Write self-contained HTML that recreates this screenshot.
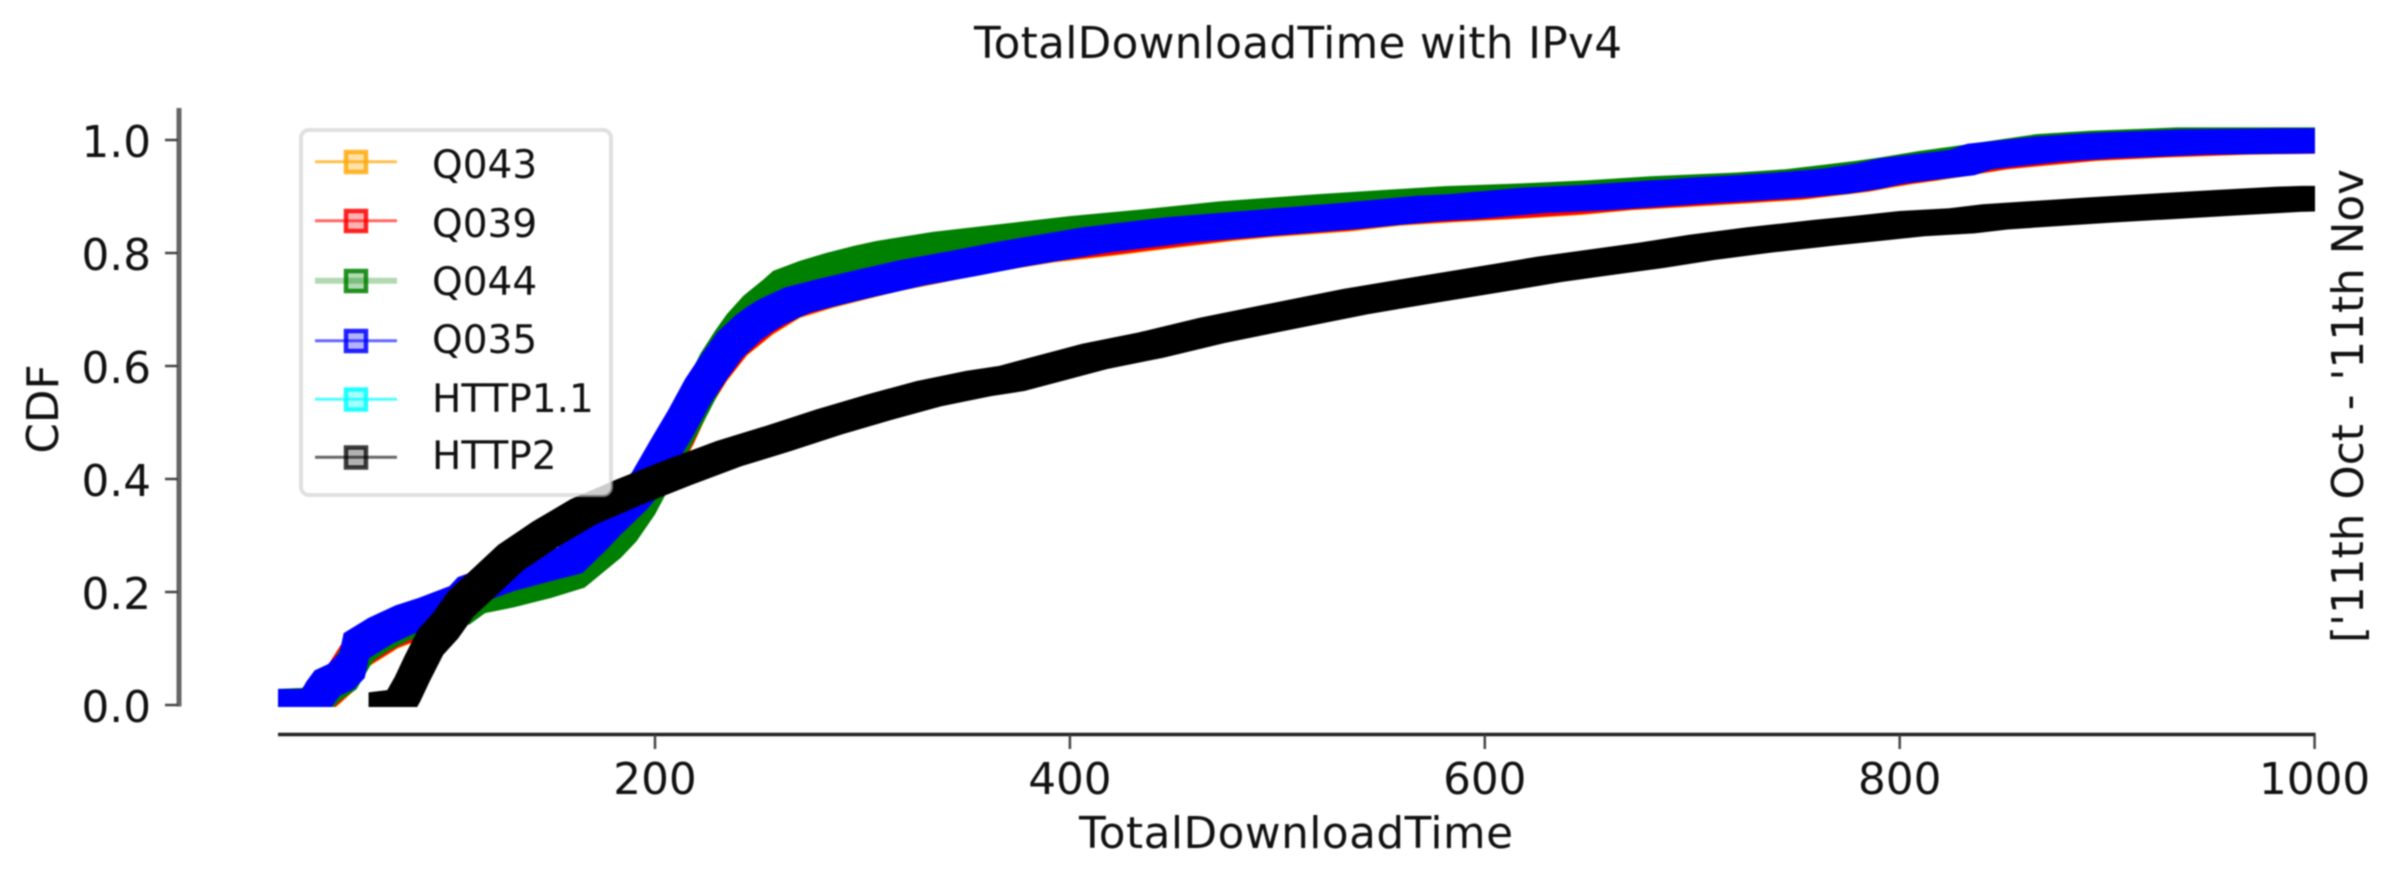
<!DOCTYPE html>
<html>
<head>
<meta charset="utf-8">
<title>TotalDownloadTime with IPv4</title>
<style>
html,body{margin:0;padding:0;background:#fff;width:2400px;height:886px;overflow:hidden}
svg{display:block;filter:blur(0.9px)}
text{font-family:"DejaVu Sans","Liberation Sans",sans-serif;font-size:43.7px;fill:#111}
text.legend-label{font-size:39px}
</style>
</head>
<body>
<svg id="chart" width="2400" height="886" viewBox="0 0 2400 886" xmlns="http://www.w3.org/2000/svg">
  <defs>
    <clipPath id="plot-clip"><rect x="278" y="108" width="2037" height="599"></rect></clipPath>
  </defs>
  <rect x="0" y="0" width="2400" height="886" fill="#fff"></rect>
  <text x="1298" y="58" text-anchor="middle" textLength="648">TotalDownloadTime with IPv4</text>
  <g id="series-layer" clip-path="url(#plot-clip)"></g>
  <g id="axes-layer"></g>
  <text x="1296" y="848" text-anchor="middle" textLength="434">TotalDownloadTime</text>
  <text transform="translate(58,409) rotate(-90)" text-anchor="middle">CDF</text>
  <text transform="translate(2363,643) rotate(-90)">['11th Oct - '11th Nov</text>
  <g>
    <rect x="301" y="130" width="310" height="365" rx="8" fill="#fff" fill-opacity="0.8" stroke="#ccc" stroke-opacity="0.6" stroke-width="4"></rect>
    <g>
      <line x1="315" x2="397" y1="161.7" y2="161.7" stroke="#ffa500" stroke-width="3" stroke-opacity="0.7"></line>
      <rect x="346" y="152" width="20" height="20" fill="#ffa500" fill-opacity="0.35" stroke="#ffa500" stroke-opacity="0.8" stroke-width="4.5"></rect>
      <text class="legend-label" x="432" y="178">Q043</text>
    </g>
    <g>
      <line x1="315" x2="397" y1="220.7" y2="220.7" stroke="#ff0000" stroke-width="3" stroke-opacity="0.6"></line>
      <rect x="346" y="211" width="20" height="20" fill="#ff0000" fill-opacity="0.3" stroke="#ff0000" stroke-opacity="0.85" stroke-width="4.5"></rect>
      <text class="legend-label" x="432" y="237">Q039</text>
    </g>
    <g>
      <line x1="315" x2="397" y1="280.7" y2="280.7" stroke="#008000" stroke-width="6" stroke-opacity="0.3"></line>
      <rect x="346" y="271" width="20" height="20" fill="#008000" fill-opacity="0.3" stroke="#008000" stroke-opacity="0.85" stroke-width="4.5"></rect>
      <text class="legend-label" x="432" y="295">Q044</text>
    </g>
    <g>
      <line x1="315" x2="397" y1="340.7" y2="340.7" stroke="#0000ff" stroke-width="3" stroke-opacity="0.6"></line>
      <rect x="346" y="331" width="20" height="20" fill="#0000ff" fill-opacity="0.3" stroke="#0000ff" stroke-opacity="0.85" stroke-width="4.5"></rect>
      <text class="legend-label" x="432" y="353">Q035</text>
    </g>
    <g>
      <line x1="315" x2="397" y1="399.3" y2="399.3" stroke="#00ffff" stroke-width="3" stroke-opacity="0.7"></line>
      <rect x="346" y="389.5" width="20" height="20" fill="#00ffff" fill-opacity="0.35" stroke="#00ffff" stroke-opacity="0.85" stroke-width="4.5"></rect>
      <text class="legend-label" x="432" y="412">HTTP1.1</text>
    </g>
    <g>
      <line x1="315" x2="397" y1="457.3" y2="457.3" stroke="#000" stroke-width="3" stroke-opacity="0.6"></line>
      <rect x="346" y="447.5" width="20" height="20" fill="#000" fill-opacity="0.3" stroke="#000" stroke-opacity="0.75" stroke-width="4.5"></rect>
      <text class="legend-label" x="432" y="469">HTTP2</text>
    </g>
  </g>
</svg>
<script>
const xTickValues = [200, 400, 600, 800, 1000];
const xTickLabels = ["200", "400", "600", "800", "1000"];
const yTickValues = [0, 0.2, 0.4, 0.6, 0.8, 1.0];
const yTickLabels = ["0.0", "0.2", "0.4", "0.6", "0.8", "1.0"];

const q043X = [10,36,42,48,56,70,90,110,125,140,160,172,182,194,204,212.5,220.6,228.6,238.2,251,263.9,280,296,312,328,344,360,386,415,440.5,472.6,492,529,553,577,615,641,665,692.6,721.5,747,763,779,790.6,800,811.5,819,846,865.5,889,922.6,963,1000];
const q043Y = [.004,.006,.024,.044,.09,.122,.15,.185,.215,.232,.25,.285,.325,.375,.425,.483,.548,.595,.64,.678,.707,.725,.74,.755,.766,.779,.79,.805,.817,.829,.843,.85,.86,.87,.8758,.8835,.8894,.8977,.9036,.91,.916,.923,.93,.938,.9437,.9496,.954,.97,.977,.985,.991,.996,.998];

const q039X = [10,36,42,48,56,70,90,110,125,140,160,172,182,194,204,212.5,220.6,228.6,238.2,251,263.9,280,296,312,328,344,360,386,415,440.5,472.6,492,529,553,577,615,641,665,692.6,721.5,747,763,779,790.6,800,811.5,819,846,865.5,889,922.6,963,1000];
const q039Y = [.005,.007,.026,.046,.092,.124,.152,.186,.216,.233,.251,.286,.326,.376,.427,.485,.55,.597,.642,.68,.709,.727,.742,.757,.768,.781,.792,.807,.819,.831,.845,.852,.862,.872,.8775,.885,.891,.899,.905,.9115,.9175,.9245,.9315,.9395,.945,.951,.9555,.971,.978,.986,.992,.997,.9985];

const q044X = [10,36,42,50,58,65,76,90,104.6,112,125.8,144,160,177.5,185,194,199.5,207,214,220.5,228,235,240.6,248.7,258.4,263,276,288.7,301.7,312.7,340,372,406,441,478,526,587,624,656,688.6,727,751,769,785,796,806,815,830,872,898,940,1000];
const q044Y = [.004,.008,.03,.05,.1,.117,.138,.15,.165,.185,.195,.212,.23,.283,.312,.36,.398,.45,.5,.545,.6,.64,.669,.702,.731,.746,.764,.778,.79,.799,.815,.8286,.843,.855,.869,.882,.896,.901,.9065,.914,.92,.926,.9336,.9407,.9466,.9525,.958,.9655,.988,.994,1.0,1.0];

const q035X = [10,36,38,42,48.5,54,56,68,81,92,107,111,126,141,159,170,177.5,190,195,203.6,212.5,220.6,228.8,236,245,251,256.5,264,269,284,300,324,348,372,412,452.5,492.6,533,573,589,622.7,653,677,706,726,749.6,769,785,796,814,830,838.7,872,897.7,942,1000];
const q035Y = [.006,.006,.019,.039,.05,.07,.105,.132,.154,.167,.188,.204,.224,.239,.256,.295,.324,.368,.39,.445,.5,.555,.6,.637,.668,.684,.696,.709,.717,.731,.745,.765,.781,.798,.823,.841,.853,.865,.879,.882,.893,.898,.904,.911,.915,.921,.927,.936,.945,.953,.96,.971,.984,.99,.9965,.9986];

const http11X = [];
const http11Y = [];

const http2X = [68,77,80.7,85.3,91.8,99,106.5,119.4,130.5,147,165.5,187.6,211.6,235.7,259.7,283.9,308,332,356,372,412,439,468.6,500.7,537.6,570,610,631,656.5,680.5,704.6,732,764,783,806,830,846,896,957,987,1000];
const http2Y = [0,.004,.028,.064,.111,.14,.179,.223,.261,.302,.342,.377,.412,.445,.472,.501,.527,.551,.569,.578,.617,.637,.663,.687,.714,.734,.758,.771,.784,.796,.81,.823,.836,.843,.852,.857,.864,.876,.889,.895,.8965];

const seriesNames = ["q043", "q039", "q044", "q035", "http1-1", "http2"];
const seriesColors = ["#ffa500", "#ff0000", "#008000", "#0000ff", "#00ffff", "#000000"];
const seriesXs = [q043X, q039X, q044X, q035X, http11X, http2X];
const seriesYs = [q043Y, q039Y, q044Y, q035Y, http11Y, http2Y];

const SVGNS = "http://www.w3.org/2000/svg";
const markerHalf = 12.6;

function xScale(v) { return 655 + (v - 200) * 2.0745; }
function yScale(v) { return 705 - v * 565; }

function bandPath(xs, ys) {
  let d = "";
  const h = markerHalf;
  for (let i = 0; i < xs.length; i++) {
    const a = xScale(xs[i]);
    const b = yScale(ys[i]);
    const c = xScale(xs[Math.min(i + 1, xs.length - 1)]);
    const e = yScale(ys[Math.min(i + 1, ys.length - 1)]);
    d += "M" + (a - h) + " " + (b - h) +
         "L" + (c - h) + " " + (e - h) +
         "L" + (c + h) + " " + (e - h) +
         "L" + (c + h) + " " + (e + h) +
         "L" + (a + h) + " " + (b + h) +
         "L" + (a - h) + " " + (b + h) + "Z";
  }
  return d;
}

const seriesLayer = document.getElementById("series-layer");
seriesNames.forEach(function (name, i) {
  if (!seriesXs[i].length) return;
  const band = document.createElementNS(SVGNS, "path");
  band.setAttribute("d", bandPath(seriesXs[i], seriesYs[i]));
  band.setAttribute("fill", seriesColors[i]);
  
  
  seriesLayer.appendChild(band);
});

const axesLayer = document.getElementById("axes-layer");

const ySpine = document.createElementNS(SVGNS, "line");
ySpine.setAttribute("x1", 179);
ySpine.setAttribute("x2", 179);
ySpine.setAttribute("y1", 108);
ySpine.setAttribute("y2", yScale(0) + 1.5);
ySpine.setAttribute("stroke", "#666");
ySpine.setAttribute("stroke-width", 5);


axesLayer.appendChild(ySpine);

const xSpine = document.createElementNS(SVGNS, "line");
xSpine.setAttribute("x1", 278);
xSpine.setAttribute("x2", xScale(1000) + 1);
xSpine.setAttribute("y1", 734.5);
xSpine.setAttribute("y2", 734.5);
xSpine.setAttribute("stroke", "#222");
xSpine.setAttribute("stroke-width", 3.5);


axesLayer.appendChild(xSpine);

yTickValues.forEach(function (v, i) {
  const tick = document.createElementNS(SVGNS, "line");
  tick.setAttribute("x1", 165);
  tick.setAttribute("x2", 178);
  tick.setAttribute("y1", yScale(v));
  tick.setAttribute("y2", yScale(v));
  tick.setAttribute("stroke", "#444");
  tick.setAttribute("stroke-width", 2.5);
  
  
  axesLayer.appendChild(tick);
  const label = document.createElementNS(SVGNS, "text");
  label.setAttribute("x", 151);
  label.setAttribute("y", yScale(v) + 17);
  label.setAttribute("text-anchor", "end");
  
  
  label.textContent = yTickLabels[i];
  axesLayer.appendChild(label);
});

xTickValues.forEach(function (v, i) {
  const tick = document.createElementNS(SVGNS, "line");
  tick.setAttribute("x1", xScale(v));
  tick.setAttribute("x2", xScale(v));
  tick.setAttribute("y1", 735);
  tick.setAttribute("y2", 749);
  tick.setAttribute("stroke", "#444");
  tick.setAttribute("stroke-width", 2.5);
  
  
  axesLayer.appendChild(tick);
  const label = document.createElementNS(SVGNS, "text");
  label.setAttribute("x", xScale(v));
  label.setAttribute("y", 794);
  label.setAttribute("text-anchor", "middle");
  
  
  label.textContent = xTickLabels[i];
  axesLayer.appendChild(label);
});
</script>
</body>
</html>
